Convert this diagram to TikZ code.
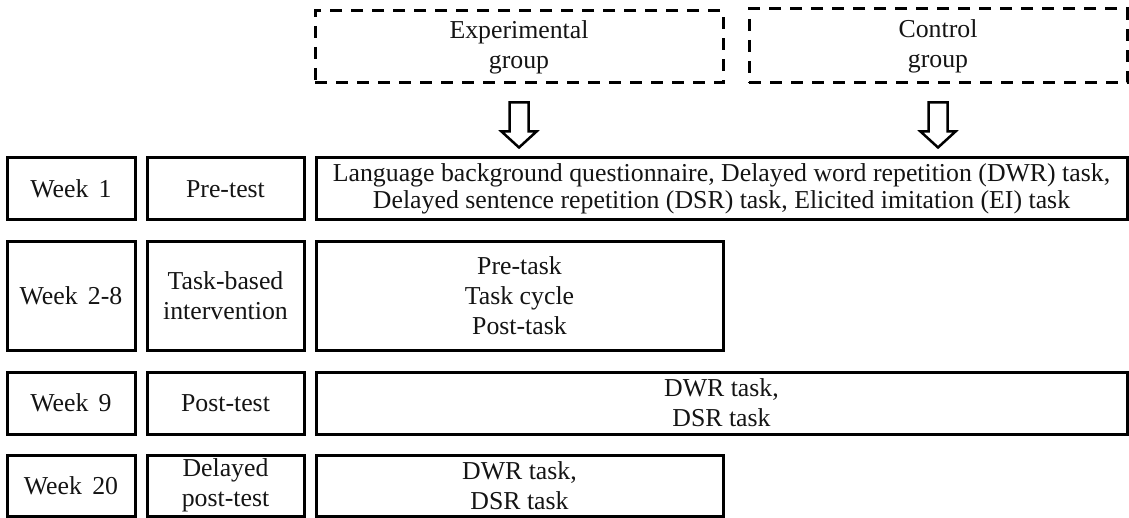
\documentclass[tikz,border=0pt]{standalone}
\usepackage{fontspec}
\setmainfont{Liberation Serif}
\newcommand{\wsp}{\hspace{0.4em}}
\begin{document}
\begin{tikzpicture}[x=1pt,y=-1pt,
  every node/.style={font=\fontsize{25.8}{30}\selectfont, text=black!92},
  box/.style={draw=black, line width=3pt, inner sep=0pt, align=center},
  dbox/.style={draw=black, line width=3pt, inner sep=0pt, align=center, dash pattern=on 12pt off 9pt},
  harrow/.style={draw=black, line width=2.5pt, fill=white, line join=miter}]
\useasboundingbox (0,0) rectangle (1129,518);
% group boxes
\node[dbox, minimum width=408pt, minimum height=72pt] (exp) at (519,47) {Experimental\\group};
\node[dbox, minimum width=378pt, minimum height=74pt] (ctl) at (938,46) {Control\\group};
% hollow arrows
\draw[harrow, shift={(exp.south)}] (-9.5,18) -- (9.5,18) -- (9.5,47) -- (17.5,47) -- (0,63) -- (-17.5,47) -- (-9.5,47) -- cycle;
\draw[harrow, shift={(ctl.south)}] (-9.5,18) -- (9.5,18) -- (9.5,47) -- (17.5,47) -- (0,63) -- (-17.5,47) -- (-9.5,47) -- cycle;
% row 1
\node[box, minimum width=128pt, minimum height=62pt] (w1) at (71,189) {Week\wsp 1};
\node[box, minimum width=157pt, minimum height=62pt] (p1) at (225.5,189) {Pre-test};
\node[box, minimum width=811pt, minimum height=62pt, font=\fontsize{25.8}{27}\selectfont] (c1) at (721.5,189) {Language background questionnaire, Delayed word repetition (DWR) task,\\Delayed sentence repetition (DSR) task, Elicited imitation (EI) task};
% row 2
\node[box, minimum width=128pt, minimum height=108pt] (w2) at (71,296) {Week\wsp 2-8};
\node[box, minimum width=157pt, minimum height=108pt] (p2) at (225.5,296) {Task-based\\intervention};
\node[box, minimum width=407pt, minimum height=108pt] (c2) at (519.5,296) {Pre-task\\Task cycle\\Post-task};
% row 3
\node[box, minimum width=128pt, minimum height=62pt] (w3) at (71,403) {Week\wsp 9};
\node[box, minimum width=157pt, minimum height=62pt] (p3) at (225.5,403) {Post-test};
\node[box, minimum width=811pt, minimum height=62pt] (c3) at (721.5,403) {DWR task,\\DSR task};
% row 4
\node[box, minimum width=128pt, minimum height=61pt] (w4) at (71,485.5) {Week\wsp 20};
\node[box, minimum width=157pt, minimum height=61pt] (p4) at (225.5,485.5) {Delayed\\post-test};
\node[box, minimum width=407pt, minimum height=61pt] (c4) at (519.5,485.5) {DWR task,\\DSR task};
\end{tikzpicture}
\end{document}
